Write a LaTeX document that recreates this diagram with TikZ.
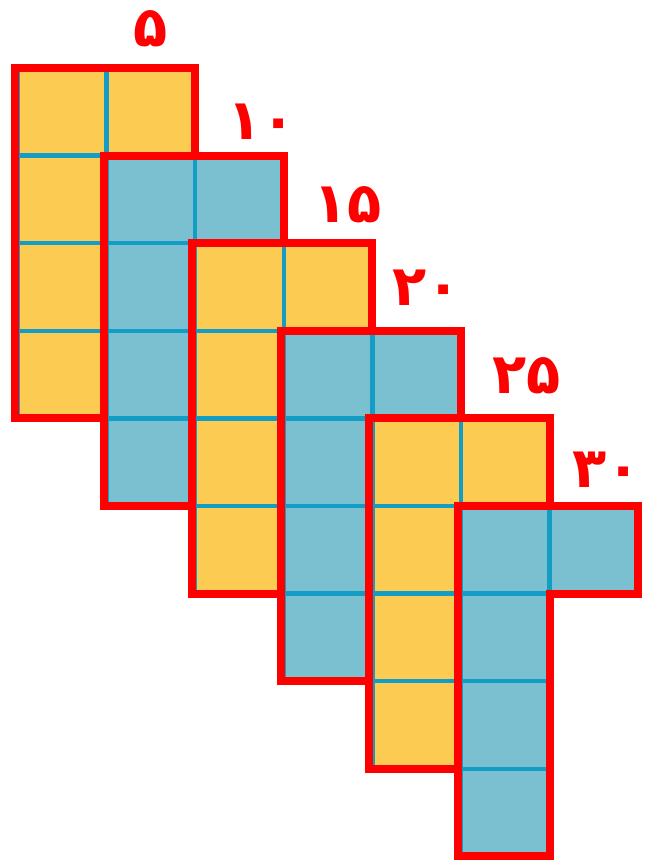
\documentclass[tikz,border=0pt]{standalone}
\usepackage{fontspec}
\newfontfamily\fadigits[Script=Arabic]{DejaVu Sans}
\definecolor{cellY}{HTML}{FCCB52}
\definecolor{cellB}{HTML}{7BC0D0}
\definecolor{gridline}{HTML}{139CC4}
\definecolor{outl}{HTML}{FF0000}
\tikzset{
  cell/.style={line width=4.5pt, draw=gridline},
  outline/.style={draw=outl, line width=8pt, line join=miter},
  lab/.style={text=outl, font=\fadigits\bfseries\fontsize{56}{56}\selectfont, inner sep=0pt, anchor=center}
}
\begin{document}
\begin{tikzpicture}[x=1pt,y=-1pt]
\useasboundingbox (0,0) rectangle (646,861);
\def\cw{88.6}
\def\rh{87.6}
\foreach \k/\col in {0/cellY,1/cellB,2/cellY,3/cellB,4/cellY,5/cellB} {
  \pgfmathsetmacro\xa{18+\cw*\k}
  \pgfmathsetmacro\xb{18+\cw*(\k+1)}
  \pgfmathsetmacro\xc{18+\cw*(\k+2)}
  \pgfmathsetmacro\ya{68+\rh*\k}
  \pgfmathsetmacro\yb{68+\rh*(\k+1)}
  \pgfmathsetmacro\ye{68+\rh*(\k+4)}
  \foreach \r in {0,1,2,3} {
    \pgfmathsetmacro\yy{\ya+\rh*\r}
    \filldraw[cell, fill=\col] (\xa,\yy) rectangle ++(\cw,\rh);
  }
  \filldraw[cell, fill=\col] (\xb,\ya) rectangle ++(\cw,\rh);
  \draw[outline] (\xa-3,\ya) -- (\xc,\ya) -- (\xc,\yb) -- (\xb,\yb) -- (\xb,\ye) -- (\xa-3,\ye) -- cycle;
}
\node[lab] (l5)  at (151,29)  {۵};
\node[lab] (l10) at (262,122) {۱۰};
\node[lab] (l15) at (348,205) {۱۵};
\node[lab] (l20) at (427,288) {۲۰};
\node[lab] (l25) at (527,376) {۲۵};
\node[lab] (l30) at (607,470) {۳۰};
\end{tikzpicture}
\end{document}
